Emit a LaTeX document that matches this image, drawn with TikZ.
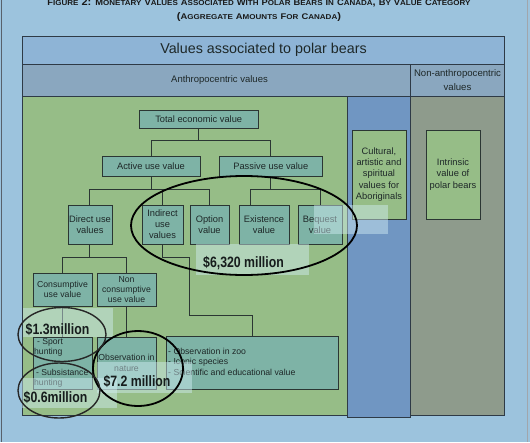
\documentclass[tikz,border=0pt]{standalone}
\usepackage{fontspec}
\setmainfont{Liberation Sans}
\usepackage{graphicx}
\definecolor{bgc}{HTML}{9CC3DD}
\definecolor{titlec}{HTML}{8EB4D6}
\definecolor{rowc}{HTML}{8AA7BF}
\definecolor{greenc}{HTML}{96BD87}
\definecolor{bluec}{HTML}{7096C2}
\definecolor{grayc}{HTML}{8E9B8C}
\definecolor{tealc}{HTML}{7EB3A6}
\definecolor{bordc}{HTML}{2B3633}
\definecolor{framec}{HTML}{2E3A46}
\definecolor{txtc}{HTML}{1E2828}
\definecolor{veilc}{HTML}{D4EFF6}
\definecolor{amtc}{HTML}{161C1C}
\newcommand\capsm[2]{{\fontsize{8.5}{9}\selectfont #1}{\fontsize{7.3}{9}\selectfont #2}}
\newcommand\amt[1]{\scalebox{0.82}[1]{#1}}
\begin{document}
\begin{tikzpicture}[x=1pt,y=-1pt,
  box/.style={draw=bordc, line width=0.9pt, fill=tealc, inner sep=0pt, align=center, text=txtc, font=\fontsize{9.3}{10.9}\selectfont},
  sbox/.style={box, font=\fontsize{8.7}{10.4}\selectfont},
  gbox/.style={box, fill=greenc, font=\fontsize{9.3}{11.3}\selectfont},
  cell/.style={draw=framec, line width=0.9pt},
  link/.style={draw=bordc, line width=0.9pt},
  veil/.style={fill=veilc, fill opacity=0.45, draw=none},
  ring/.style={draw=black, line width=1.8pt},
  thinring/.style={draw=black!85, line width=1.4pt},
  amount/.style={text=amtc, inner sep=0pt, font=\fontsize{15}{16}\selectfont\bfseries}
]
\useasboundingbox (0,0) rectangle (530,442);
\fill[bgc] (0,0) rectangle (530,442);
\draw[framec!80, line width=1.2pt] (1.5,0) -- (1.5,442);
\draw[framec!45, line width=1pt] (527.5,0) -- (527.5,442);

% heading
\node[anchor=base, inner sep=0pt, text=black!90] (head1) at (259,5.5) {\resizebox{423pt}{7pt}{\bfseries
 \capsm{F}{IGURE} 2: \capsm{M}{ONETARY} \capsm{V}{ALUES} \capsm{A}{SSOCIATED} \capsm{W}{ITH} \capsm{P}{OLAR} \capsm{B}{EARS} \capsm{I}{N} \capsm{C}{ANADA}, \capsm{B}{Y} \capsm{V}{ALUE} \capsm{C}{ATEGORY}}};
\node[anchor=base, inner sep=0pt, text=black!90] (head2) at (259,19.5) {\resizebox{164pt}{7pt}{\bfseries
 (\capsm{A}{GGREGATE} \capsm{A}{MOUNTS} \capsm{F}{OR} \capsm{C}{ANADA})}};

% table
\filldraw[cell, fill=titlec] (22.5,36.5) rectangle (504.5,64);
\filldraw[cell, fill=rowc] (22.5,64) rectangle (410.5,96);
\filldraw[cell, fill=rowc] (410.5,64) rectangle (504.5,96);
\filldraw[cell, fill=greenc] (22.5,96) rectangle (347.5,415);
\filldraw[cell, fill=grayc] (410.5,96) rectangle (504.5,415);
\filldraw[cell, fill=bluec] (347.5,96) rectangle (410.5,417);

\node[text=txtc, font=\fontsize{14.3}{16}\selectfont] (ttl) at (263.5,50) {Values associated to polar bears};
\node[text=txtc, font=\fontsize{9.5}{11}\selectfont] (anth) at (219.5,80) {Anthropocentric values};
\node[text=txtc, align=center, inner sep=0pt, font=\fontsize{9.6}{14.5}\selectfont] (nonanth) at (457.5,80) {Non-anthropocentric\\values};

% boxes
\node[box, minimum width=119.5pt, minimum height=18pt] (total) at (198.75,119) {Total economic value};
\node[box, minimum width=98pt, minimum height=20pt] (active) at (151,166) {Active use value};
\node[box, minimum width=103.7pt, minimum height=20pt] (passive) at (270.85,166) {Passive use value};
\node[box, minimum width=44pt, minimum height=39pt] (direct) at (90,224.5) {Direct use\\values};
\node[box, minimum width=41pt, minimum height=39pt] (indirect) at (162.5,224.5) {Indirect\\use\\values};
\node[box, minimum width=39pt, minimum height=39pt] (option) at (209.5,224.5) {Option\\value};
\node[box, minimum width=50pt, minimum height=39pt] (existence) at (264,224.5) {Existence\\value};
\node[box, minimum width=44pt, minimum height=39pt] (bequest) at (320,224.5) {Bequest\\value};
\node[gbox, minimum width=54pt, minimum height=89pt] (cultural) at (379,174.5) {Cultural,\\artistic and\\spiritual\\values for\\Aboriginals};
\node[gbox, minimum width=54pt, minimum height=89pt] (intrinsic) at (453,174.5) {Intrinsic\\value of\\polar bears};
\node[sbox, minimum width=59pt, minimum height=33pt] (consumptive) at (62.5,289.5) {Consumptive\\use value};
\node[sbox, minimum width=59pt, minimum height=33pt] (noncons) at (126.5,289.5) {Non\\consumptive\\use value};
\node[box, minimum width=59pt, minimum height=52pt] (hunting) at (62.5,363) {};
\node[anchor=west, inner sep=0pt, align=left, text=txtc, font=\fontsize{8.6}{10}\selectfont] (huntingtxt) at (34,362.5) {\hspace{3pt}- Sport\\hunting\\[11pt]\hspace{2pt}- Subsistance\\hunting};
\node[sbox, minimum width=59pt, minimum height=52pt] (nature) at (126.5,363) {Observation in\\nature};
\node[box, minimum width=172pt, minimum height=53pt] (zoo) at (252,362.5) {};
\node[anchor=west, inner sep=0pt, align=left, text=txtc, font=\fontsize{8.7}{10.4}\selectfont] (zootxt) at (168,361.5) {- Observation in zoo\\- Iconic species\\- Scientific and educational value};

% connectors
\draw[link] (total.south) -- ++(0,12) coordinate (b1);
\draw[link] (active.north) |- (b1) -| (passive.north);
\draw[link] (active.south) -- ++(0,13) coordinate (b2);
\draw[link] ([xshift=-1pt]direct.north) |- (b2) -| (option.north);
\draw[link] (indirect.north) -- (indirect.north |- b2);
\draw[link] (passive.south) -- ++(0,13) coordinate (b3);
\draw[link] ([xshift=-14pt]existence.north) |- (b3) -| (bequest.north);
\draw[link] ([xshift=-1pt]direct.south) -- ++(0,13) coordinate (b4);
\draw[link] (consumptive.north) |- (b4) -| (noncons.north);
\draw[link] (indirect.south) -- ++(0,13) -- ++(26.5,0) coordinate (b5);
\draw[link] (b5) |- ([yshift=20pt]zoo.north) -- (zoo.north);
\draw[link] (consumptive.south) -- (hunting.north);
\draw[link] (noncons.south) -- (nature.north);

% veils
\fill[veil] (196,244) rectangle (309,275);
\fill[veil] (314,205) rectangle (388,234);
\fill[veil] (23,308) rectangle (113,337);
\fill[veil] (22,378) rectangle (117,408);
\fill[veil] (97,362) rectangle (192,393);

% rings
\draw[ring] (244,225.5) ellipse [x radius=113pt, y radius=49.5pt];
\draw[ring] (138,368.5) ellipse [x radius=45pt, y radius=37.5pt];
\draw[thinring] (62,334.5) ellipse [x radius=44pt, y radius=27pt];
\draw[thinring] (59,390.5) ellipse [x radius=41pt, y radius=27.5pt];

% amounts
\node[amount] (a1) at (243.5,263) {\amt{\$6,320 million}};
\node[amount] (a2) at (57.5,329) {\amt{\$1.3million}};
\node[amount] (a3) at (55.5,397) {\amt{\$0.6million}};
\node[amount] (a4) at (137,381) {\amt{\$7.2 million}};
\end{tikzpicture}
\end{document}
